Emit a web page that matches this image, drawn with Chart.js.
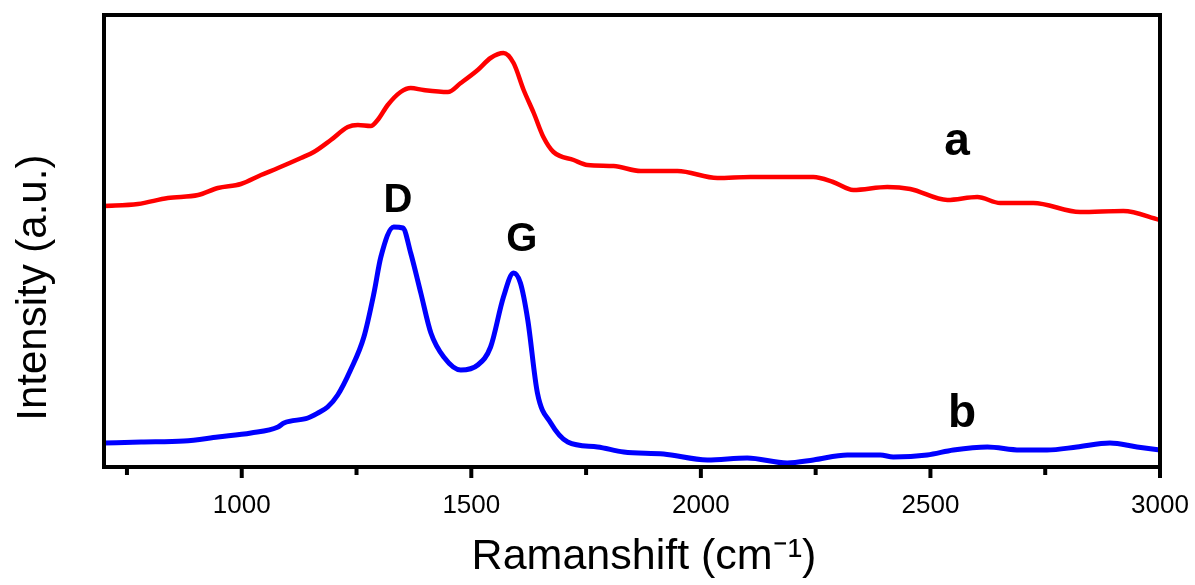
<!DOCTYPE html>
<html lang="en">
<head>
  <meta charset="UTF-8">
  <title>Raman spectra</title>
  <style>
    body, html { margin:0; padding:0; overflow:hidden; background:#fff; }
    #wrap { position:relative; width:1195px; height:585px; }
  </style>
</head>
<body>
  <div id="wrap"><canvas id="chart" width="1195" height="585"></canvas></div>

  <script src="https://cdn.jsdelivr.net/npm/chart.js"></script>
  <script>
    // curve a (red)
    const shiftA = [700, 774, 839, 905, 948, 998, 1042, 1079, 1129, 1157, 1194, 1231, 1253, 1281, 1296, 1318, 1346, 1368, 1396, 1449,
                    1477, 1514, 1542, 1570, 1592, 1614, 1636, 1657, 1679, 1723, 1753, 1810, 1869, 1949, 2036, 2108, 2145, 2245, 2288, 2332,
                    2406, 2456, 2537, 2602, 2652, 2724, 2826, 2920, 3000];
    const intensA = [261, 263, 269, 272, 279, 283, 292, 299, 309, 315, 327, 340, 342, 341, 347, 362, 375, 379, 377, 375,
                     384, 397, 409, 414, 404, 377, 354, 330, 315, 307, 302, 301, 296, 296, 289, 290, 290, 290, 285, 277,
                     280, 278, 267, 270, 264, 264, 255, 256, 247];

    // curve b (blue)
    const shiftB = [700, 781, 874, 948, 1020, 1079, 1092, 1144, 1166, 1187, 1209, 1237, 1266, 1288, 1303, 1331, 1351, 1368, 1390, 1412,
                    1440, 1477, 1514, 1542, 1570, 1592, 1607, 1623, 1644, 1673, 1710, 1775, 1832, 1919, 2014, 2101, 2188, 2245, 2319, 2391,
                    2419, 2493, 2550, 2624, 2695, 2754, 2819, 2891, 2950, 3000];
    const intensB = [24, 25, 26, 30, 34, 40, 44, 49, 54, 60, 72, 97, 130, 174, 210, 240, 239, 214, 174, 134,
                     110, 97, 102, 120, 170, 194, 184, 147, 74, 44, 25, 20, 15, 13, 7, 9, 4, 7, 12, 12,
                     10, 12, 17, 20, 17, 17, 20, 24, 20, 17];

    // x ticks (labels only on the 500s)
    const xTicks = [750, 1000, 1250, 1500, 1750, 2000, 2250, 2500, 2750, 3000];
    const xTickLabels = ['', '1000', '', '1500', '', '2000', '', '2500', '', '3000'];

    // text marks: [text, x, y]
    const peakLabels = [['D', 1340, 255], ['G', 1610, 216]];
    const curveLabels = [['a', 2558, 312], ['b', 2569, 40]];

    const FONT = "'Liberation Sans', Arial, sans-serif";
    const toXY = (xs, ys) => xs.map((x, i) => ({ x, y: ys[i] }));

    const frame = {
      id: 'frame',
      afterDatasetsDraw(chart) {
        const { ctx, chartArea: a, scales } = chart;
        ctx.save();
        ctx.strokeStyle = '#000';
        ctx.lineWidth = 4;
        scales.x.ticks.forEach((t, i) => {
          const px = scales.x.getPixelForValue(t.value);
          const len = xTickLabels[i] ? 11 : 8;
          ctx.beginPath();
          ctx.moveTo(px, a.bottom);
          ctx.lineTo(px, a.bottom + len);
          ctx.stroke();
        });
        ctx.strokeRect(a.left, a.top, a.right - a.left, a.bottom - a.top);

        ctx.fillStyle = '#000';
        ctx.textAlign = 'center';
        ctx.textBaseline = 'alphabetic';
        ctx.font = 'bold 40px ' + FONT;
        peakLabels.forEach(([s, x, y]) => ctx.fillText(s, scales.x.getPixelForValue(x), scales.y.getPixelForValue(y)));
        ctx.font = 'bold 46px ' + FONT;
        curveLabels.forEach(([s, x, y]) => ctx.fillText(s, scales.x.getPixelForValue(x), scales.y.getPixelForValue(y)));
        ctx.restore();
      }
    };

    new Chart(document.getElementById('chart'), {
      type: 'line',
      data: {
        datasets: [
          { label: 'a', data: toXY(shiftA, intensA), borderColor: '#ff0000', borderWidth: 4.5,
            pointRadius: 0, cubicInterpolationMode: 'monotone' },
          { label: 'b', data: toXY(shiftB, intensB), borderColor: '#0000ff', borderWidth: 5,
            pointRadius: 0, cubicInterpolationMode: 'monotone' }
        ]
      },
      options: {
        responsive: false,
        animation: false,
        layout: { padding: { left: 0, top: 15, right: 35, bottom: 0 } },
        plugins: { legend: { display: false }, tooltip: { enabled: false } },
        scales: {
          x: {
            type: 'linear', min: 700, max: 3000,
            border: { display: false },
            grid: { display: false, drawTicks: false },
            afterBuildTicks: s => { s.ticks = xTicks.map(v => ({ value: v })); },
            ticks: {
              padding: 23, color: '#000', maxRotation: 0, autoSkip: false,
              font: { family: FONT, size: 26 },
              callback: (v, i) => xTickLabels[i]
            },
            title: { display: true, text: '  Ramanshift (cm⁻¹)', color: '#000',
                     font: { family: FONT, size: 43 }, padding: { top: 0, bottom: 2 } },
            afterFit: s => { s.height = 118; s.paddingRight = 0; }
          },
          y: {
            min: 0, max: 452,
            border: { display: false },
            grid: { display: false, drawTicks: false },
            ticks: { display: false },
            title: { display: true, text: 'Intensity (a.u.)        ', color: '#000',
                     font: { family: FONT, size: 42 }, padding: { top: 9, bottom: 0 } },
            afterFit: s => { s.width = 104; }
          }
        }
      },
      plugins: [frame]
    });
  </script>
</body>
</html>
